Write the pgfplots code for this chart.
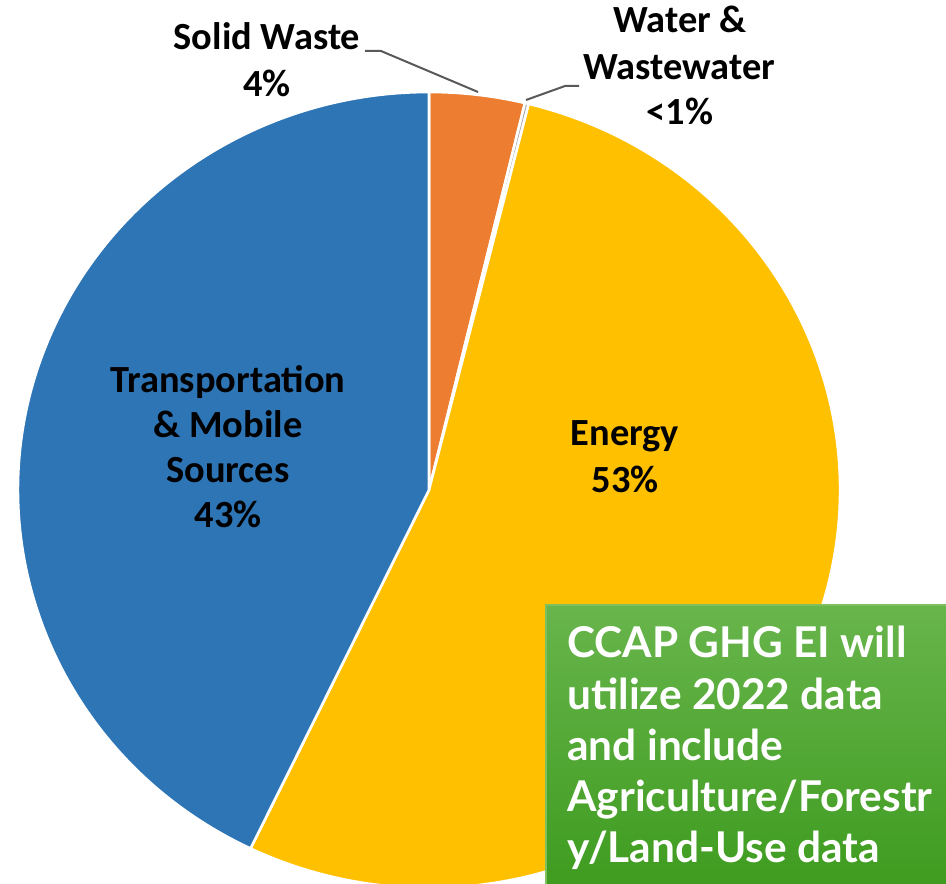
\documentclass[border=0pt]{standalone}
\usepackage{pgfplots}
\pgfplotsset{compat=1.18}
\usepackage{fontspec}
\setmainfont{Carlito}
\newfontfamily\lato{Lato}
\definecolor{cBlue}{HTML}{2E75B6}
\definecolor{cOrange}{HTML}{ED7D31}
\definecolor{cYellow}{HTML}{FFC000}
\definecolor{cGray}{HTML}{A5A5A5}
\definecolor{gTop}{HTML}{68B54C}
\definecolor{gBot}{HTML}{3D9B1E}
\definecolor{gEdge}{HTML}{7CC060}
\definecolor{leader}{HTML}{595959}
\newcommand\lblfont{\bfseries\fontsize{19.2}{22}\selectfont}
\newcommand\boxfont{\lato\bfseries\fontsize{21.2}{25.5}\selectfont}
\begin{document}
\begin{tikzpicture}
\begin{axis}[scale only axis, width=473pt, height=441.5pt,
  xmin=0, xmax=946, ymin=0, ymax=883, y dir=reverse, hide axis, clip=true]
% pie slices (percent), clockwise from the top
\def\curang{90}
\foreach \v/\c in {3.75/cOrange,0.15/cGray,53.25/cYellow,42.85/cBlue}{
  \pgfmathsetmacro\endang{\curang-3.6*\v}
  \edef\temp{\noexpand\fill[\c, draw=white, line width=1.3pt, line join=round] (axis cs:429,490) -- ++({205.5pt*cos(\curang)},{199pt*sin(\curang)}) arc[start angle=\curang, end angle=\endang, x radius=205.5pt, y radius=199pt] -- cycle;}
  \temp
  \global\let\curang\endang
}
% leader lines
\draw[leader, line width=1pt] (axis cs:365,51) -- (axis cs:381,51) -- (axis cs:478,92);
\draw[leader, line width=1pt] (axis cs:526,100) -- (axis cs:565,86) -- (axis cs:579,86);
% labels
\tikzset{lbl/.style={anchor=base, inner sep=0pt, font=\lblfont}}
\node[lbl] at (axis cs:267,50) {Solid Waste};
\node[lbl] at (axis cs:267,97) {4\%};
\node[lbl] at (axis cs:680,33) {Water \&};
\node[lbl] at (axis cs:679,80) {Wastewater};
\node[lbl] at (axis cs:680,124) {<1\%};
\node[lbl] at (axis cs:228,392) {Transportation};
\node[lbl] at (axis cs:228,437) {\& Mobile};
\node[lbl] at (axis cs:228,482) {Sources};
\node[lbl] at (axis cs:228,527) {43\%};
\node[lbl] at (axis cs:625,445) {Energy};
\node[lbl] at (axis cs:625,492) {53\%};
% green note box
\shadedraw[top color=gTop, bottom color=gBot, draw=gEdge, line width=1.2pt] (axis cs:546,605) rectangle (axis cs:952,895);
\tikzset{bx/.style={anchor=base west, inner sep=0pt, text=white, font=\boxfont}}
\node[bx] at (axis cs:567,657) {CCAP GHG EI will};
\node[bx] at (axis cs:567,709) {utilize 2022 data};
\node[bx] at (axis cs:567,760) {and include};
\node[bx] at (axis cs:567,811) {Agriculture/Forestr};
\node[bx] at (axis cs:567,862) {y/Land-Use data};
\end{axis}
\pgfresetboundingbox
\path (current axis.south west) rectangle (current axis.north east);
\end{tikzpicture}
\end{document}
